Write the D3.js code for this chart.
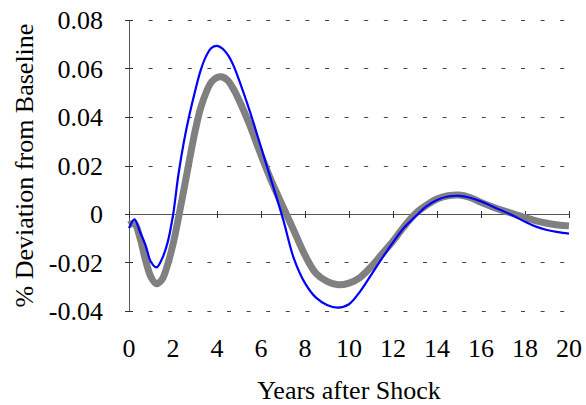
<!DOCTYPE html>
<html>
<head>
<meta charset="utf-8">
<script src="https://cdn.jsdelivr.net/npm/d3@7/dist/d3.min.js"></script>
</head>
<body style="margin:0;background:#fff">
<svg id="chart" width="586" height="405" style="display:block"></svg>
<script>
// ---- data ----
const years = [0,0.25,0.5,0.75,1,1.25,1.5,1.75,2,2.25,2.5,2.75,3,3.25,3.5,3.75,4,4.25,4.5,4.75,5,
  5.5,6,6.5,7,7.5,8,8.5,9,9.5,10,10.5,11,11.5,12,12.5,13,13.5,14,14.5,15,15.5,16,16.5,17,17.5,18,18.5,19,19.5,20];
const blueSeries = [-0.0058,-0.0022,-0.0074,-0.0128,-0.0198,-0.0220,-0.0185,-0.0119,-0.0005,0.0165,0.0300,0.0410,0.0505,0.0590,0.0650,0.0685,0.0693,0.0682,0.0655,0.0612,0.0553,
  0.0421,0.0276,0.0129,-0.0020,-0.0185,-0.0285,-0.0345,-0.0375,-0.0386,-0.0372,
  -0.0320,-0.0252,-0.0183,-0.0117,-0.0057,-0.0012,0.0030,0.0058,0.0072,0.0075,
  0.0067,0.0052,0.0032,0.0012,-0.0008,-0.0032,-0.0052,-0.0066,-0.0075,-0.0081];
const graySeries = [-0.0045,-0.0040,-0.0099,-0.0190,-0.0260,-0.0288,-0.0270,-0.0210,-0.0125,-0.0015,0.0103,0.0224,0.0340,0.0435,0.0500,0.0545,0.0563,0.0565,0.0550,0.0515,0.0470,
  0.0364,0.0243,0.0130,0.0030,-0.0070,-0.0170,-0.0245,-0.0278,-0.0292,-0.0285,
  -0.0262,-0.0218,-0.0165,-0.0112,-0.0052,0.0000,0.0035,0.0062,0.0075,0.0078,
  0.0068,0.0048,0.0030,0.0014,0.0000,-0.0015,-0.0028,-0.0038,-0.0045,-0.0049];
const xTicks = [0,2,4,6,8,10,12,14,16,18,20];
const yTicks = [-0.04,-0.02,0,0.02,0.04,0.06,0.08];
const yTickLabels = ["-0.04","-0.02","0","0.02","0.04","0.06","0.08"];
const xTitle = "Years after Shock";
const yTitle = "% Deviation from Baseline";

const FS = 26;

// ---- layout ----
const svg = d3.select("#chart");
const x = d3.scaleLinear().domain([0, 20]).range([129, 569]);
const y = d3.scaleLinear().domain([-0.04, 0.08]).range([311, 20]);

function label(sel) {
  return sel.style("font-family", '"Liberation Serif"')
    .attr("font-size", FS).attr("fill", "#000");
}

// gridlines (dashed), except at zero where the axis sits
svg.append("g").selectAll("line")
  .data(yTicks.filter(d => d !== 0))
  .join("line")
  .attr("x1", x(0)).attr("x2", x(20))
  .attr("y1", d => Math.round(y(d)) + 0.5).attr("y2", d => Math.round(y(d)) + 0.5)
  .attr("stroke", "#444").attr("stroke-width", 1)
  .attr("stroke-dasharray", "4,15.6");

// y axis line + cross ticks
svg.append("line")
  .attr("x1", x(0) + 0.5).attr("x2", x(0) + 0.5)
  .attr("y1", y(0.08)).attr("y2", y(-0.04))
  .attr("stroke", "#555").attr("stroke-width", 1);
svg.append("g").selectAll("line")
  .data(yTicks).join("line")
  .attr("x1", x(0) - 4).attr("x2", x(0) + 4)
  .attr("y1", d => Math.round(y(d)) + 0.5).attr("y2", d => Math.round(y(d)) + 0.5)
  .attr("stroke", "#333").attr("stroke-width", 1);

// x axis at zero + cross ticks
svg.append("line")
  .attr("x1", x(0)).attr("x2", x(20))
  .attr("y1", Math.round(y(0)) + 0.5).attr("y2", Math.round(y(0)) + 0.5)
  .attr("stroke", "#555").attr("stroke-width", 1);
svg.append("g").selectAll("line")
  .data(xTicks).join("line")
  .attr("x1", d => Math.round(x(d)) + 0.5).attr("x2", d => Math.round(x(d)) + 0.5)
  .attr("y1", y(0) - 3).attr("y2", y(0) + 4)
  .attr("stroke", "#333").attr("stroke-width", 1);

// series
const line = (vals) => d3.line()
  .x((d, i) => x(years[i]))
  .y(d => y(d))
  .curve(d3.curveCatmullRom.alpha(0.5))(vals);

svg.append("path")
  .attr("d", line(graySeries))
  .attr("fill", "none").attr("stroke", "#808080")
  .attr("stroke-width", 7).attr("stroke-linejoin", "miter");
svg.append("path")
  .attr("d", line(blueSeries))
  .attr("fill", "none").attr("stroke", "#0000ff")
  .attr("stroke-width", 2.2).attr("stroke-linejoin", "round");

// tick labels
svg.selectAll("text.ylab")
  .data(yTicks).join("text").attr("class", "ylab")
  .attr("x", 103).attr("y", d => y(d) + 9)
  .attr("text-anchor", "end")
  .call(label)
  .text((d, i) => yTickLabels[i]);
svg.selectAll("text.xlab")
  .data(xTicks).join("text").attr("class", "xlab")
  .attr("x", d => x(d)).attr("y", 357)
  .attr("text-anchor", "middle")
  .call(label)
  .text(d => String(d));

// axis titles
svg.selectAll("text.xtitle").data([xTitle]).join("text").attr("class", "xtitle")
  .attr("x", (x(0) + x(20)) / 2).attr("y", 399)
  .attr("text-anchor", "middle")
  .call(label)
  .text(d => d);
svg.selectAll("text.ytitle").data([yTitle]).join("text").attr("class", "ytitle")
  .attr("transform", `translate(33,${(y(0.08) + y(-0.04)) / 2}) rotate(-90)`)
  .attr("text-anchor", "middle")
  .call(label)
  .text(d => d);
</script>
</body>
</html>
